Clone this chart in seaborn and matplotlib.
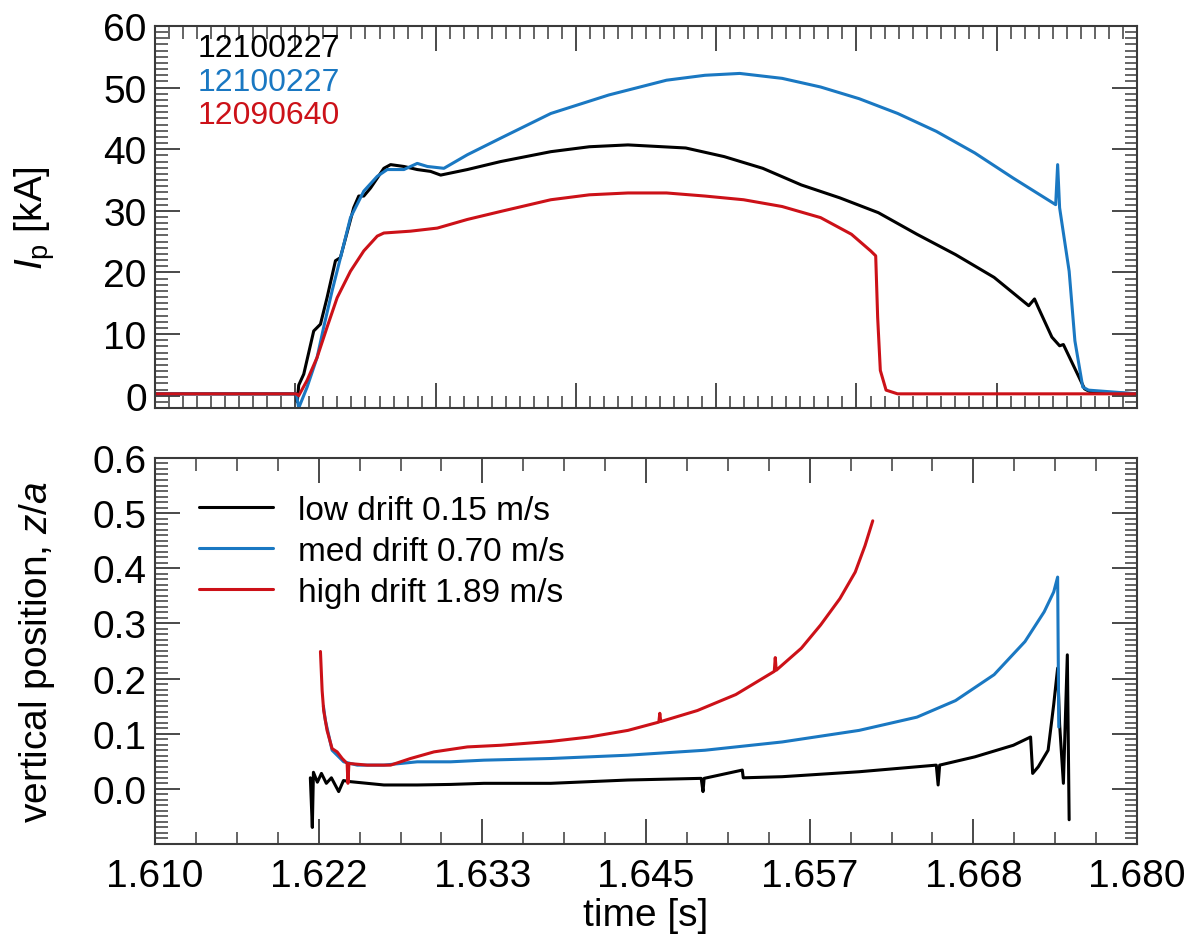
import numpy as np
import pandas as pd
import matplotlib
matplotlib.use("Agg")
import matplotlib.pyplot as plt
import seaborn as sns
from matplotlib.ticker import FixedLocator, MultipleLocator, FormatStrFormatter

# --- data ---
# top panel: plasma current Ip [kA] vs time [s]
ip_black_t = [1.61000, 1.62007, 1.62014, 1.62024, 1.62060, 1.62131, 1.62179, 1.62226, 1.62286,
              1.62321, 1.62416, 1.62452, 1.62488, 1.62536, 1.62631, 1.62679, 1.62774, 1.62869,
              1.62964, 1.63036, 1.63226, 1.63464, 1.63821, 1.64096, 1.64371, 1.64783, 1.65057,
              1.65332, 1.65607, 1.65882, 1.66156, 1.66431, 1.66706, 1.66981, 1.67228, 1.67269,
              1.67296, 1.67393, 1.67448, 1.67475, 1.67626, 1.67668, 1.68000]
ip_black = [0.3, 0.3, -1.0, 1.7, 3.5, 10.5, 11.6, 15.9, 21.9,
            22.4, 30.5, 32.4, 32.4, 33.7, 36.9, 37.5, 37.2, 36.7,
            36.4, 35.8, 36.7, 38.0, 39.6, 40.4, 40.7, 40.2, 38.8,
            36.9, 34.2, 32.1, 29.7, 26.2, 22.9, 19.2, 14.6, 15.7,
            14.3, 9.5, 8.1, 8.3, 1.1, 0.6, 0.3]

ip_blue_t = [1.61000, 1.62007, 1.62024, 1.62084, 1.62155, 1.62202, 1.62262, 1.62334, 1.62393,
             1.62488, 1.62584, 1.62655, 1.62774, 1.62869, 1.62941, 1.63059, 1.63226, 1.63464,
             1.63821, 1.64234, 1.64646, 1.64920, 1.65168, 1.65470, 1.65744, 1.66019, 1.66294,
             1.66569, 1.66843, 1.67118, 1.67420, 1.67434, 1.67448, 1.67516, 1.67557, 1.67613,
             1.67654, 1.68000]
ip_blue = [0.3, 0.3, -2.0, 1.4, 6.2, 11.1, 17.0, 23.5, 28.9,
           33.2, 35.6, 36.7, 36.7, 37.7, 37.2, 36.9, 39.1, 41.8,
           45.8, 48.8, 51.2, 52.0, 52.3, 51.5, 50.1, 48.2, 45.8,
           42.9, 39.4, 35.3, 31.0, 37.5, 30.5, 20.2, 8.9, 1.4,
           0.9, 0.3]

ip_red_t = [1.61000, 1.62007, 1.62024, 1.62084, 1.62155, 1.62226, 1.62298, 1.62393, 1.62488,
            1.62584, 1.62631, 1.62821, 1.63012, 1.63226, 1.63464, 1.63821, 1.64096, 1.64371,
            1.64646, 1.64920, 1.65195, 1.65470, 1.65744, 1.65964, 1.66101, 1.66137, 1.66151,
            1.66170, 1.66211, 1.66293, 1.68000]
ip_red = [0.3, 0.3, 0.0, 2.5, 6.2, 11.1, 15.9, 20.2, 23.5,
          25.9, 26.4, 26.7, 27.2, 28.6, 29.9, 31.8, 32.6, 32.9,
          32.9, 32.4, 31.8, 30.7, 28.9, 26.2, 23.5, 22.7, 12.7,
          4.1, 0.9, 0.3, 0.3]

shots = ["12100227", "12100227", "12090640"]

# bottom panel: vertical position z/a vs time [s]
z_low_t = [1.62107, 1.62121, 1.62129, 1.62157, 1.62186, 1.62221, 1.62257, 1.62309, 1.62343,
           1.62393, 1.62631, 1.62869, 1.63107, 1.63345, 1.63821, 1.64371, 1.64893, 1.64906,
           1.64914, 1.65186, 1.65193, 1.65470, 1.66019, 1.66569, 1.66582, 1.66593, 1.66844,
           1.67118, 1.67241, 1.67256, 1.67296, 1.67366, 1.67406, 1.67434, 1.67448, 1.67475,
           1.67503, 1.67516]
z_low = [0.020, -0.070, 0.030, 0.012, 0.028, 0.010, 0.020, -0.005, 0.015,
         0.013, 0.007, 0.007, 0.008, 0.010, 0.010, 0.016, 0.019, -0.005,
         0.019, 0.034, 0.020, 0.022, 0.031, 0.043, 0.007, 0.043, 0.058,
         0.079, 0.094, 0.028, 0.040, 0.070, 0.153, 0.219, 0.117, 0.010,
         0.243, -0.056]

z_med_t = [1.62200, 1.62214, 1.62262, 1.62345, 1.62441, 1.62631, 1.62869, 1.63107, 1.63345,
           1.63821, 1.64371, 1.64920, 1.65470, 1.66019, 1.66431, 1.66706, 1.66981, 1.67201,
           1.67338, 1.67406, 1.67434, 1.67442]
z_med = [0.150, 0.124, 0.070, 0.049, 0.043, 0.043, 0.049, 0.049, 0.052,
         0.055, 0.061, 0.070, 0.085, 0.106, 0.130, 0.160, 0.207, 0.267,
         0.321, 0.357, 0.384, 0.112]

z_high_t = [1.62179, 1.62191, 1.62202, 1.62226, 1.62262, 1.62298, 1.62334, 1.62369, 1.62375,
            1.62382, 1.62512, 1.62679, 1.62821, 1.62988, 1.63226, 1.63464, 1.63821, 1.64096,
            1.64371, 1.64591, 1.64598, 1.64605, 1.64866, 1.65140, 1.65414, 1.65421, 1.65428,
            1.65607, 1.65744, 1.65882, 1.65991, 1.66061, 1.66116]
z_high = [0.249, 0.178, 0.142, 0.106, 0.073, 0.067, 0.055, 0.046, 0.010,
          0.046, 0.043, 0.043, 0.055, 0.067, 0.076, 0.079, 0.086, 0.094,
          0.106, 0.121, 0.137, 0.122, 0.142, 0.171, 0.213, 0.238, 0.215,
          0.255, 0.297, 0.345, 0.393, 0.441, 0.486]

drift_labels = ["low drift 0.15 m/s", "med drift 0.70 m/s", "high drift 1.89 m/s"]
colors = ["#000000", "#1a78c2", "#cc1118"]

# --- build long tables ---
top_df = pd.concat([
    pd.DataFrame({"t": ip_black_t, "ip": ip_black, "trace": "a"}),
    pd.DataFrame({"t": ip_blue_t, "ip": ip_blue, "trace": "b"}),
    pd.DataFrame({"t": ip_red_t, "ip": ip_red, "trace": "c"}),
], ignore_index=True)

bot_df = pd.concat([
    pd.DataFrame({"t": z_low_t, "z": z_low, "drift": drift_labels[0]}),
    pd.DataFrame({"t": z_med_t, "z": z_med, "drift": drift_labels[1]}),
    pd.DataFrame({"t": z_high_t, "z": z_high, "drift": drift_labels[2]}),
], ignore_index=True)

# --- styling ---
sns.set_theme(style="ticks")
plt.rcParams["font.family"] = ["Liberation Sans", "DejaVu Sans"]
plt.rcParams["mathtext.fontset"] = "custom"
plt.rcParams["mathtext.rm"] = "Liberation Sans"
plt.rcParams["mathtext.it"] = "Liberation Sans:italic"
plt.rcParams["axes.linewidth"] = 1.5
plt.rcParams["axes.edgecolor"] = "#3a3a3a"
plt.rcParams["text.color"] = "black"
plt.rcParams["axes.labelcolor"] = "black"

fig = plt.figure(figsize=(11.9, 9.37), dpi=100)
ax1 = fig.add_axes([0.1303, 0.5635, 0.8252, 0.4077])
ax2 = fig.add_axes([0.1303, 0.0982, 0.8252, 0.4120])

sns.lineplot(data=top_df, x="t", y="ip", hue="trace", palette=colors, estimator=None,
             sort=False, legend=False, linewidth=2.2, ax=ax1)
sns.lineplot(data=bot_df, x="t", y="z", hue="drift", hue_order=drift_labels, palette=colors,
             estimator=None, sort=False, linewidth=2.2, ax=ax2)

# top panel
ax1.set_xlim(1.61, 1.68)
ax1.set_ylim(-2, 60)
ax1.xaxis.set_major_locator(MultipleLocator(0.01))
ax1.xaxis.set_minor_locator(MultipleLocator(0.001))
ax1.yaxis.set_major_locator(FixedLocator([0, 10, 20, 30, 40, 50, 60]))
ax1.yaxis.set_minor_locator(MultipleLocator(1))
ax1.tick_params(axis="x", labelbottom=False)
ax1.set_xlabel("")
ax1.set_ylabel(r"$I_{\rm p}$ [kA]", fontsize=28)

for i, (lab, c) in enumerate(zip(shots, colors)):
    ax1.text(0.043, 0.942 - i * 0.088, lab, color=c, fontsize=23, va="center", ha="left",
             transform=ax1.transAxes)

# bottom panel
ax2.set_xlim(1.61, 1.68)
ax2.set_ylim(-0.1, 0.6)
ax2.xaxis.set_major_locator(FixedLocator(np.linspace(1.61, 1.68, 7)))
ax2.xaxis.set_minor_locator(FixedLocator(np.linspace(1.61, 1.68, 25)))
ax2.xaxis.set_major_formatter(FormatStrFormatter("%.3f"))
ax2.yaxis.set_major_locator(FixedLocator([0.0, 0.1, 0.2, 0.3, 0.4, 0.5, 0.6]))
ax2.yaxis.set_minor_locator(MultipleLocator(0.01))
ax2.yaxis.set_major_formatter(FormatStrFormatter("%.1f"))
ax2.set_xlabel("time [s]", fontsize=28, labelpad=2)
ax2.set_ylabel(r"vertical position, $z/a$", fontsize=28)

leg = ax2.legend(loc="upper left", bbox_to_anchor=(0.045, 0.905), frameon=False, fontsize=24,
                 handlelength=2.2, handletextpad=0.75, labelspacing=0.3, borderaxespad=0,
                 borderpad=0)
for h in leg.get_lines():
    h.set_linewidth(2.2)
for txt in leg.get_texts():
    txt.set_color("black")

for ax in (ax1, ax2):
    ax.tick_params(which="both", direction="in", top=True, right=True, colors="#3a3a3a",
                   labelcolor="black", labelsize=28)
    ax.tick_params(which="major", length=18, width=1.3)
    ax.tick_params(which="minor", length=9, width=1.1)
    ax.tick_params(axis="x", pad=10)
    ax.tick_params(axis="y", pad=6)
    ax.yaxis.set_label_coords(-0.1, 0.5)

fig.savefig("out.png", dpi=100)
